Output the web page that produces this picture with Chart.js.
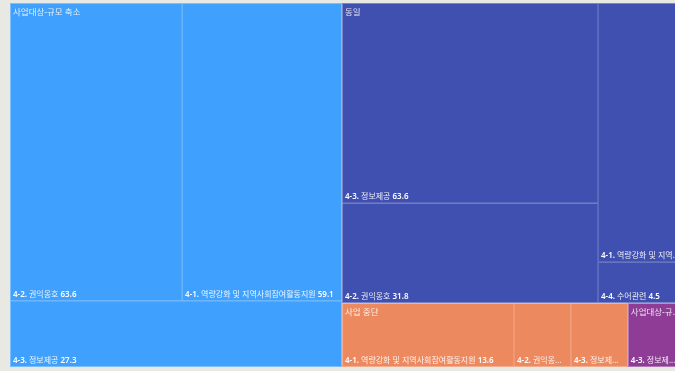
<!DOCTYPE html>
<html lang="ko">
<head>
<meta charset="utf-8">
<script src="https://cdn.jsdelivr.net/npm/chart.js@4.4.0/dist/chart.umd.min.js"></script>
<style>
  html, body { margin: 0; padding: 0; background: #e9e9e4; overflow: hidden; }
  #wrap { position: absolute; left: 10px; top: 3px; width: 676px; height: 364px; }
</style>
</head>
<body>
<div id="wrap"><canvas id="treemap"></canvas></div>
<script>
// Groups (status) and their items / values
const groups = ['사업대상-규모 축소', '동일', '사업 중단', '사업대상-규모 확대'];
const colors = ['#3fa0fd', '#4050b0', '#ec895e', '#8e3c96'];
const items = [
    ['4-2. 권익옹호', '4-1. 역량강화 및 지역사회참여활동지원', '4-3. 정보제공'],
    ['4-3. 정보제공', '4-2. 권익옹호', '4-1. 역량강화 및 지역사회참여활동지원', '4-4. 수어관련'],
    ['4-1. 역량강화 및 지역사회참여활동지원', '4-2. 권익옹호', '4-3. 정보제공'],
    ['4-3. 정보제공']
];
const values = [
    [63.6, 59.1, 27.3],
    [63.6, 31.8, 28.3, 4.5],
    [13.6, 4.5, 4.5],
    [4.6]
];

const FONT = '"Noto Sans", "Noto Sans CJK KR", sans-serif';
const PHI = (1 + Math.sqrt(5)) / 2;

// squarified layout (golden ratio), values already sorted descending
function squarify(vals, x0, y0, x1, y1) {
    const out = [];
    const n = vals.length;
    let value = vals.reduce((a, b) => a + b, 0);
    let i0 = 0, i1 = 0;
    while (i0 < n) {
        const dx = x1 - x0, dy = y1 - y0;
        let sum = vals[i1++], minV = sum, maxV = sum;
        const alpha = Math.max(dy / dx, dx / dy) / (value * PHI);
        let beta = sum * sum * alpha;
        let minRatio = Math.max(maxV / beta, beta / minV);
        for (; i1 < n; ++i1) {
            const v = vals[i1];
            sum += v;
            if (v < minV) minV = v;
            if (v > maxV) maxV = v;
            beta = sum * sum * alpha;
            const r = Math.max(maxV / beta, beta / minV);
            if (r > minRatio) { sum -= v; break; }
            minRatio = r;
        }
        if (dx < dy) {
            const h = i1 >= n ? dy : dy * sum / value;
            let x = x0;
            for (let i = i0; i < i1; i++) {
                const w = dx * vals[i] / sum;
                out[i] = { x0: x, y0: y0, x1: x + w, y1: y0 + h };
                x += w;
            }
            y0 += h;
        } else {
            const w = i1 >= n ? dx : dx * sum / value;
            let y = y0;
            for (let i = i0; i < i1; i++) {
                const h = dy * vals[i] / sum;
                out[i] = { x0: x0, y0: y, x1: x0 + w, y1: y + h };
                y += h;
            }
            x0 += w;
        }
        value -= sum;
        i0 = i1;
    }
    return out;
}

// cut text with "..." until it fits; force=true always cuts at least one char
function fitText(ctx, text, maxW, force) {
    if (!force && ctx.measureText(text).width <= maxW) return text;
    let t = force ? text.slice(0, -1) : text;
    while (t.length > 0 && ctx.measureText(t + '...').width > maxW) t = t.slice(0, -1);
    return t.length ? t + '...' : '';
}

// "4-x." prefix and value in bold, the rest regular; value dropped when cut
function drawCellLabel(ctx, name, val, x, y, maxW) {
    const sp = name.indexOf(' ');
    const prefix = name.slice(0, sp);
    const bold = '600 8px ' + FONT, normal = '8px ' + FONT;
    let shown = name, showVal = true;
    ctx.font = bold;
    const wPre = ctx.measureText(prefix).width;
    const wVal = ctx.measureText(' ' + val).width;
    ctx.font = normal;
    const wRest = ctx.measureText(name.slice(sp)).width;
    if (wPre + wRest + wVal > maxW) {
        showVal = false;
        shown = fitText(ctx, name, maxW - 2, true);
    }
    let cx = x;
    const pre = shown.slice(0, Math.min(sp, shown.length));
    ctx.font = bold;
    ctx.fillStyle = '#ffffff';
    ctx.fillText(pre, cx, y);
    cx += ctx.measureText(pre).width;
    ctx.font = normal;
    const rest = shown.slice(pre.length);
    ctx.fillStyle = 'rgba(255,255,255,0.9)';
    ctx.fillText(rest, cx, y);
    cx += ctx.measureText(rest).width;
    if (showVal) {
        ctx.font = bold;
        ctx.fillStyle = '#ffffff';
        ctx.fillText(' ' + val, cx, y);
    }
}

const treemapPlugin = {
    id: 'treemapCells',
    beforeDatasetsDraw(chart) {
        const ctx = chart.ctx;
        const xs = chart.scales.x, ys = chart.scales.y;
        const L = xs.getPixelForValue(0), R = xs.getPixelForValue(1);
        const T = ys.getPixelForValue(1), B = ys.getPixelForValue(0);
        const totals = values.map(v => v.reduce((a, b) => a + b, 0));
        const groupRects = squarify(totals, L, T, R, B);

        ctx.save();
        groupRects.forEach((g, gi) => {
            const cells = squarify(values[gi], g.x0, g.y0, g.x1, g.y1);
            cells.forEach(c => {
                ctx.fillStyle = colors[gi];
                ctx.fillRect(c.x0, c.y0, c.x1 - c.x0, c.y1 - c.y0);
                ctx.strokeStyle = 'rgba(255,255,255,0.14)';
                ctx.lineWidth = 1;
                ctx.strokeRect(Math.round(c.x0) + 0.5, Math.round(c.y0) + 0.5,
                    Math.round(c.x1 - c.x0) - 1, Math.round(c.y1 - c.y0) - 1);
            });
            ctx.strokeStyle = 'rgba(255,255,255,0.2)';
            ctx.strokeRect(Math.round(g.x0) + 0.5, Math.round(g.y0) + 0.5,
                Math.round(g.x1 - g.x0) - 1, Math.round(g.y1 - g.y0) - 1);

            // cell labels, bottom left
            ctx.textBaseline = 'alphabetic';
            ctx.textAlign = 'left';
            cells.forEach((c, ci) => {
                drawCellLabel(ctx, items[gi][ci], values[gi][ci].toFixed(1),
                    c.x0 + 3, c.y1 - 4, c.x1 - c.x0 - 6);
            });

            // group label, top left
            ctx.font = '8.5px ' + FONT;
            ctx.textBaseline = 'top';
            ctx.fillStyle = 'rgba(255,255,255,0.85)';
            ctx.fillText(fitText(ctx, groups[gi], g.x1 - g.x0 - 6), g.x0 + 3, g.y0 + 5);
        });
        ctx.restore();
    }
};

window.onload = function () {
    const ctx = document.getElementById('treemap').getContext('2d');
    new Chart(ctx, {
        type: 'scatter',
        data: { datasets: [{ data: [] }] },
        options: {
            responsive: true,
            maintainAspectRatio: false,
            animation: false,
            layout: { padding: 0 },
            scales: {
                x: { type: 'linear', min: 0, max: 1, display: false },
                y: { type: 'linear', min: 0, max: 1, display: false }
            },
            plugins: { legend: { display: false }, tooltip: { enabled: false } }
        },
        plugins: [treemapPlugin]
    });
};
</script>
</body>
</html>
